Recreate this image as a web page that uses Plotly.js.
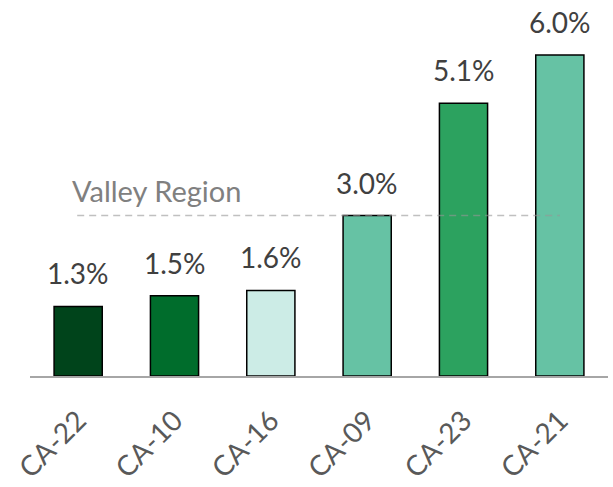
<!DOCTYPE html>
<html>
<head>
<meta charset="utf-8">
<script src="https://cdn.plot.ly/plotly-3.0.1.min.js"></script>
<style>html,body{margin:0;padding:0;background:#fff;}#chart{width:613px;height:487px;}</style>
</head>
<body>
<div id="chart"></div>
<script>
const categories = ["CA-22", "CA-10", "CA-16", "CA-09", "CA-23", "CA-21"];
const values = [1.3, 1.5, 1.6, 3.0, 5.1, 6.0];
const barColors = ["#00441b", "#006d2c", "#ccece6", "#66c2a4", "#2ca25f", "#66c2a4"];
const referenceValue = 3.0;
const referenceLabel = "Valley Region";

const FONT = "Lato, Carlito, Calibri, sans-serif";

const trace = {
  type: "bar",
  x: categories,
  y: values,
  width: 0.5,
  marker: { color: barColors, line: { color: "#000000", width: 1.5 } },
  hoverinfo: "x+y"
};

const valueAnnotations = categories.map((c, i) => ({
  x: c, y: values[i], xref: "x", yref: "y",
  text: values[i].toFixed(1) + "%",
  showarrow: false, yanchor: "bottom", yshift: 14,
  font: { family: FONT, size: 28, color: "#404040" }
}));

const layout = {
  width: 613, height: 487,
  margin: { l: 30, r: 5, t: 0, b: 111 },
  paper_bgcolor: "#ffffff", plot_bgcolor: "#ffffff",
  showlegend: false,
  xaxis: {
    range: [-0.5, 5.5],
    automargin: false,
    showline: true, linecolor: "#a6a6a6", linewidth: 2,
    showgrid: false, zeroline: false,
    tickangle: -45,
    ticklabelstandoff: 15,
    tickfont: { family: FONT, size: 28, color: "#595959" }
  },
  yaxis: { range: [0, 7.03], visible: false },
  shapes: [{
    type: "line", xref: "x", yref: "y",
    x0: -0.01, x1: 5.0, y0: referenceValue, y1: referenceValue,
    line: { color: "rgba(150,150,150,0.6)", width: 1.5, dash: "7px,5px" },
    layer: "above"
  }],
  annotations: valueAnnotations.concat([{
    x: 0, y: referenceValue, xref: "x", yref: "y",
    text: referenceLabel, showarrow: false,
    xanchor: "left", yanchor: "bottom", xshift: -8, yshift: 6,
    font: { family: FONT, size: 29, color: "#808080" }
  }])
};

Plotly.newPlot("chart", [trace], layout, { displayModeBar: false })
  .then(gd => Plotly.relayout(gd, { "xaxis.tickangle": -45 }));
</script>
</body>
</html>
